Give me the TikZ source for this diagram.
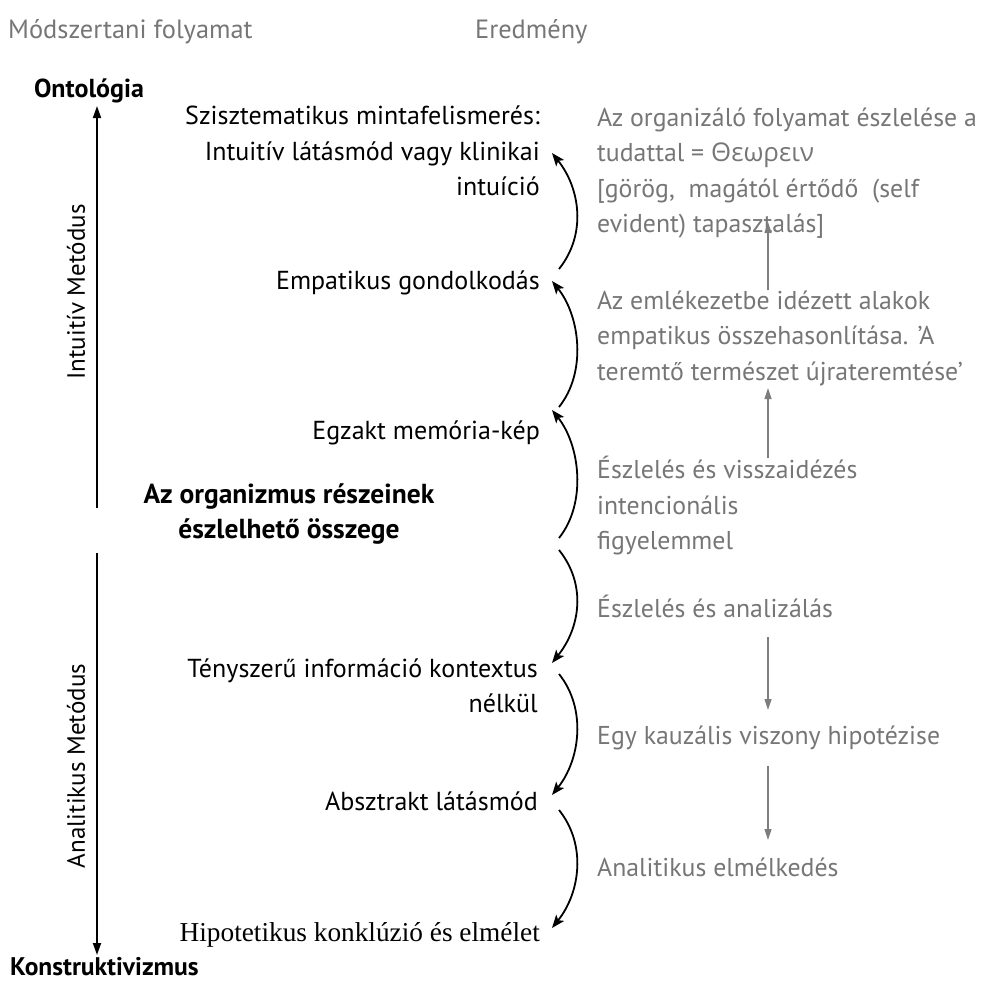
\documentclass[tikz,border=0pt]{standalone}
\usepackage{fontspec}
\setmainfont{PT Sans}
\newfontfamily\greekfont{Open Sans}
\newfontfamily\seriffont{Liberation Serif}
\usetikzlibrary{arrows.meta}
\definecolor{txtgray}{RGB}{118,118,118}
\definecolor{arrgray}{RGB}{125,125,125}
\begin{document}
\begin{tikzpicture}[x=1pt,y=-1pt,
  hdr/.style={font=\fontsize{26.4}{30}\selectfont, text=txtgray, inner sep=0pt, anchor=west},
  boldlbl/.style={font=\bfseries\fontsize{26}{30}\selectfont, inner sep=0pt},
  rotlbl/.style={font=\fontsize{25}{28}\selectfont, inner sep=0pt, rotate=90},
  midtxt/.style={font=\fontsize{26}{35.5}\selectfont, align=right, inner sep=0pt, anchor=east},
  boldmid/.style={font=\bfseries\fontsize{27.5}{35}\selectfont, align=center, inner sep=0pt},
  rtxt/.style={font=\fontsize{25.8}{35.5}\selectfont, text=txtgray, align=left, inner sep=0pt, anchor=west},
  axis/.style={line width=1.8pt, draw=black},
  axisarr/.style={axis, -{Triangle[length=12pt,width=8pt]}},
  carr/.style={line width=1.8pt, -{Stealth[length=13pt,width=10pt,inset=3pt]}},
  garr/.style={line width=1.2pt, draw=arrgray, -{Triangle[length=11pt,width=7pt,fill=arrgray]}}
]
\useasboundingbox (0,0) rectangle (981,983);

% headers
\node[hdr] (h1) at (8,32) {Módszertani folyamat};
\node[hdr] (h2) at (475,32) {Eredmény};

% axis
\node[boldlbl] (onto) at (89,91) {Ontológia};
\node[boldlbl, anchor=west, font=\bfseries\fontsize{25.5}{30}\selectfont] (konst) at (10,967) {Konstruktivizmus};
\coordinate (u1) at (97,508);
\coordinate (u2) at (97,106);
\coordinate (d1) at (97,553);
\coordinate (d2) at (97,955);
\draw[axisarr] (u1) -- (u2);
\draw[axisarr] (d1) -- (d2);
\node[rotlbl] (im) at (76,292) {Intuitív Metódus};
\node[rotlbl] (am) at (76,766) {Analitikus Metódus};

% middle column
\node[midtxt] (m1) at (540,151) {Szisztematikus mintafelismerés:\\Intuitív látásmód vagy klinikai\\intuíció};
\node[midtxt] (m2) at (540,283) {Empatikus gondolkodás};
\node[midtxt] (m3) at (540,433) {Egzakt memória-kép};
\node[boldmid] (m4) at (289,514) {Az organizmus részeinek\\észlelhető összege};
\node[midtxt] (m5) at (538,686) {Tényszerű információ kontextus\\nélkül};
\node[midtxt] (m6) at (538,801) {Absztrakt látásmód};
\node[midtxt, font=\seriffont\fontsize{27.3}{30}\selectfont] (m7) at (540,935) {Hipotetikus konklúzió és elmélet};

% curved arrows
\coordinate (c1s) at (559,269); \coordinate (c1e) at (552,153);
\coordinate (c2s) at (559,407); \coordinate (c2e) at (552,281);
\coordinate (c3s) at (559,538); \coordinate (c3e) at (552,410);
\coordinate (c4s) at (559,550); \coordinate (c4e) at (552,663);
\coordinate (c5s) at (559,674); \coordinate (c5e) at (552,795);
\coordinate (c6s) at (559,810); \coordinate (c6e) at (552,928);
\draw[carr] (c1s) .. controls +(28,-35) and +(28,35) .. (c1e);
\draw[carr] (c2s) .. controls +(28,-35) and +(28,35) .. (c2e);
\draw[carr] (c3s) .. controls +(28,-35) and +(28,35) .. (c3e);
\draw[carr] (c4s) .. controls +(28,35) and +(28,-35) .. (c4e);
\draw[carr] (c5s) .. controls +(28,35) and +(28,-35) .. (c5e);
\draw[carr] (c6s) .. controls +(28,35) and +(28,-35) .. (c6e);

% right column
\node[rtxt] (r1) at (597,173) {Az organizáló folyamat észlelése a\\tudattal = {\greekfont Θεωρειν}\\{[}görög,\ \ magától értődő\ \ (self\\evident) tapasztalás{]}};
\node[rtxt] (r2) at (597,338) {Az emlékezetbe idézett alakok\\empatikus összehasonlítása. ’A\\teremtő természet újrateremtése’};
\node[rtxt] (r3) at (597,506) {Észlelés és visszaidézés\\intencionális\\figyelemmel};
\node[rtxt] (r4) at (597,606) {Észlelés és analizálás};
\node[rtxt] (r5) at (597,738) {Egy kauzális viszony hipotézise};
\node[rtxt] (r6) at (597,867) {Analitikus elmélkedés};

% gray arrows
\coordinate (g1s) at (768,290); \coordinate (g1e) at (768,222);
\coordinate (g2s) at (768,458); \coordinate (g2e) at (768,388);
\coordinate (g3s) at (768,637); \coordinate (g3e) at (768,710);
\coordinate (g4s) at (768,766); \coordinate (g4e) at (768,840);
\draw[garr] (g1s) -- (g1e);
\draw[garr] (g2s) -- (g2e);
\draw[garr] (g3s) -- (g3e);
\draw[garr] (g4s) -- (g4e);
\end{tikzpicture}
\end{document}
